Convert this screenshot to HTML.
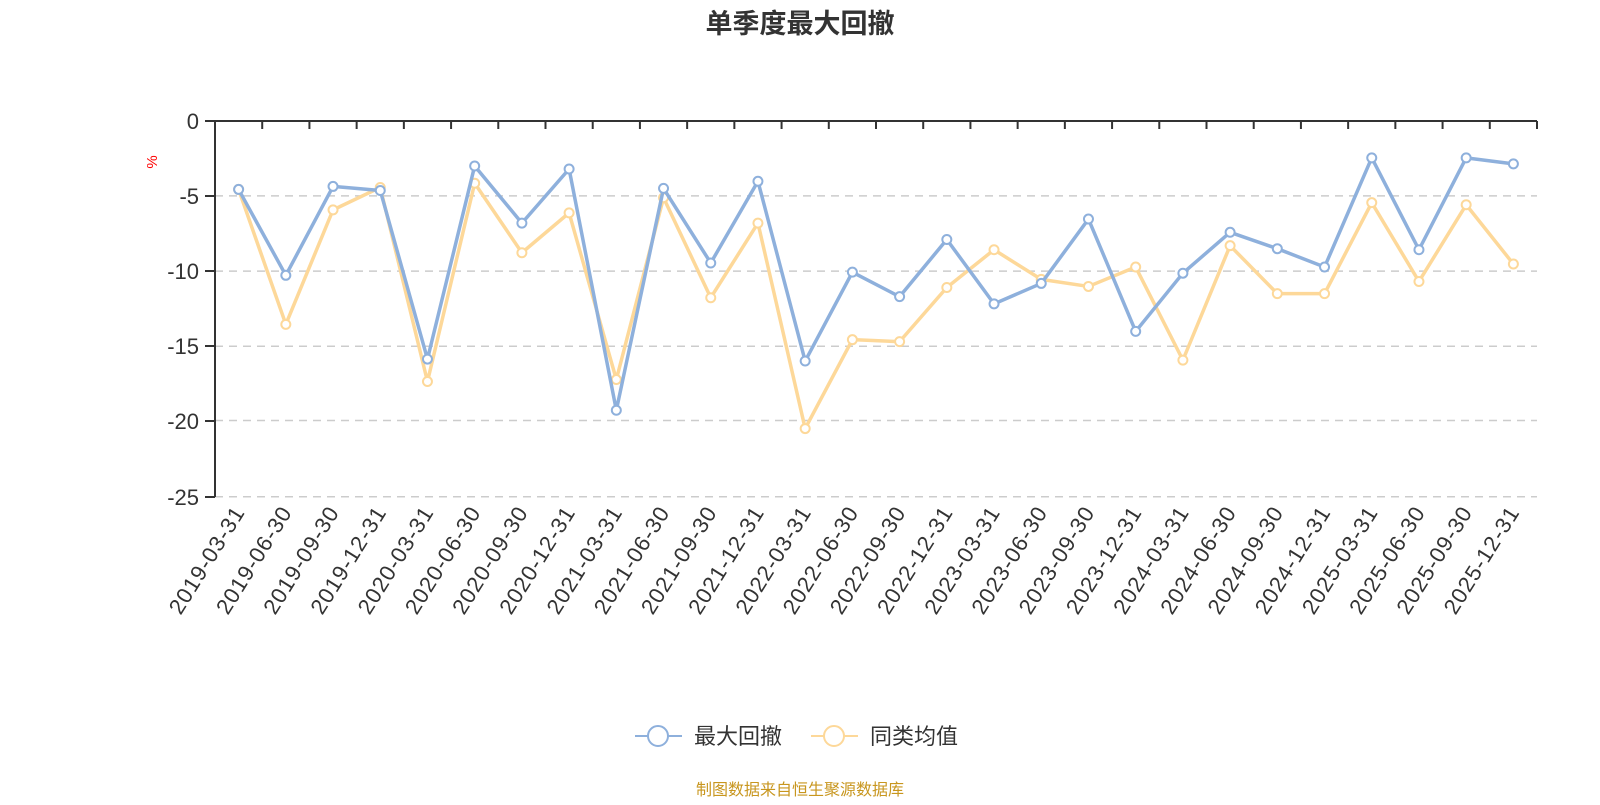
<!DOCTYPE html>
<html><head><meta charset="utf-8"><style>
body{margin:0;background:#fff;width:1600px;height:800px;overflow:hidden}
svg text{font-family:"Liberation Sans","Noto Sans CJK SC",sans-serif}
</style></head><body>
<svg id="s" width="1600" height="800" xmlns="http://www.w3.org/2000/svg">
<text x="800" y="33" text-anchor="middle" font-size="27" font-weight="bold" fill="#333">单季度最大回撤</text>
<text x="157" y="162" font-size="15" fill="#f00" transform="rotate(-90 157 162)" text-anchor="middle">%</text>
<g stroke="#ccc" stroke-width="1.5" stroke-dasharray="8,6">
<line x1="215" x2="1537" y1="195.9" y2="195.9"/><line x1="215" x2="1537" y1="271.1" y2="271.1"/>
<line x1="215" x2="1537" y1="346.3" y2="346.3"/><line x1="215" x2="1537" y1="420.5" y2="420.5"/>
<line x1="215" x2="1537" y1="496.7" y2="496.7"/>
</g>
<g font-size="22" fill="#333" text-anchor="end">
<text x="199" y="129">0</text><text x="199" y="204">-5</text><text x="199" y="279">-10</text>
<text x="199" y="354">-15</text><text x="199" y="429">-20</text><text x="199" y="505">-25</text>
</g>
<g stroke="#333" stroke-width="2" id="ax">
<line x1="215" y1="121" x2="1537" y2="121"/><line x1="215" y1="120" x2="215" y2="497"/>
<line x1="205" y1="121" x2="215" y2="121"/><line x1="205" y1="196" x2="215" y2="196"/><line x1="205" y1="271" x2="215" y2="271"/>
<line x1="205" y1="346" x2="215" y2="346"/><line x1="205" y1="421" x2="215" y2="421"/><line x1="205" y1="497" x2="215" y2="497"/>
</g>
<g font-size="22" fill="#333" text-anchor="end" letter-spacing="1" id="xl">
<text>2019-03-31</text><text>2019-06-30</text><text>2019-09-30</text><text>2019-12-31</text>
<text>2020-03-31</text><text>2020-06-30</text><text>2020-09-30</text><text>2020-12-31</text>
<text>2021-03-31</text><text>2021-06-30</text><text>2021-09-30</text><text>2021-12-31</text>
<text>2022-03-31</text><text>2022-06-30</text><text>2022-09-30</text><text>2022-12-31</text>
<text>2023-03-31</text><text>2023-06-30</text><text>2023-09-30</text><text>2023-12-31</text>
<text>2024-03-31</text><text>2024-06-30</text><text>2024-09-30</text><text>2024-12-31</text>
<text>2025-03-31</text><text>2025-06-30</text><text>2025-09-30</text><text>2025-12-31</text>
</g>
<g id="series"></g>
<line x1="635" y1="736" x2="682" y2="736" stroke="#8eb0dc" stroke-width="2"/>
<circle cx="658" cy="736" r="10" fill="#fff" stroke="#8eb0dc" stroke-width="2"/>
<text x="694" y="744" font-size="22" fill="#333">最大回撤</text>
<line x1="811" y1="736" x2="858" y2="736" stroke="#fdd899" stroke-width="2"/>
<circle cx="834" cy="736" r="10" fill="#fff" stroke="#fdd899" stroke-width="2"/>
<text x="870" y="744" font-size="22" fill="#333">同类均值</text>
<text x="800" y="795" text-anchor="middle" font-size="16" fill="#c8961e">制图数据来自恒生聚源数据库</text>
</svg>
<script>
var NS="http://www.w3.org/2000/svg",L=215,W=(1537-215)/28;
function X(i){return L+W*(i+0.5)}function Y(v){return 121-v*15.04}
var ax=document.getElementById('ax');
for(var i=1;i<=28;i++){var t=document.createElementNS(NS,'line');var x=L+W*i;t.setAttribute('x1',x);t.setAttribute('x2',x);t.setAttribute('y1',121);t.setAttribute('y2',129);ax.appendChild(t);}
var tx=document.getElementById('xl').children;
for(var i=0;i<tx.length;i++){var x=X(i)+7,y=512;tx[i].setAttribute('x',x);tx[i].setAttribute('y',y);tx[i].setAttribute('transform','rotate(-58 '+x+' '+y+')');}
var b=[-4.55,-10.26,-4.35,-4.62,-15.83,-2.99,-6.79,-3.19,-19.23,-4.48,-9.44,-4.01,-15.96,-10.05,-11.68,-7.88,-12.16,-10.8,-6.52,-13.99,-10.12,-7.4,-8.49,-9.71,-2.45,-8.56,-2.45,-2.85];
var y=[-4.55,-13.52,-5.91,-4.42,-17.32,-4.14,-8.76,-6.11,-17.19,-5.1,-11.75,-6.79,-20.45,-14.54,-14.67,-11.07,-8.56,-10.53,-11.0,-9.71,-15.9,-8.29,-11.48,-11.48,-5.43,-10.67,-5.57,-9.51];
var g=document.getElementById('series');
function draw(d,c){var p=document.createElementNS(NS,'polyline');p.setAttribute('points',d.map(function(v,i){return X(i)+','+Y(v)}).join(' '));p.setAttribute('fill','none');p.setAttribute('stroke',c);p.setAttribute('stroke-width','3.5');p.setAttribute('stroke-linejoin','round');g.appendChild(p);
d.forEach(function(v,i){var k=document.createElementNS(NS,'circle');k.setAttribute('cx',X(i));k.setAttribute('cy',Y(v));k.setAttribute('r',4.5);k.setAttribute('fill','#fff');k.setAttribute('stroke',c);k.setAttribute('stroke-width','2');g.appendChild(k);});}
draw(y,'#fdd899');draw(b,'#8eb0dc');
</script>
</body></html>
